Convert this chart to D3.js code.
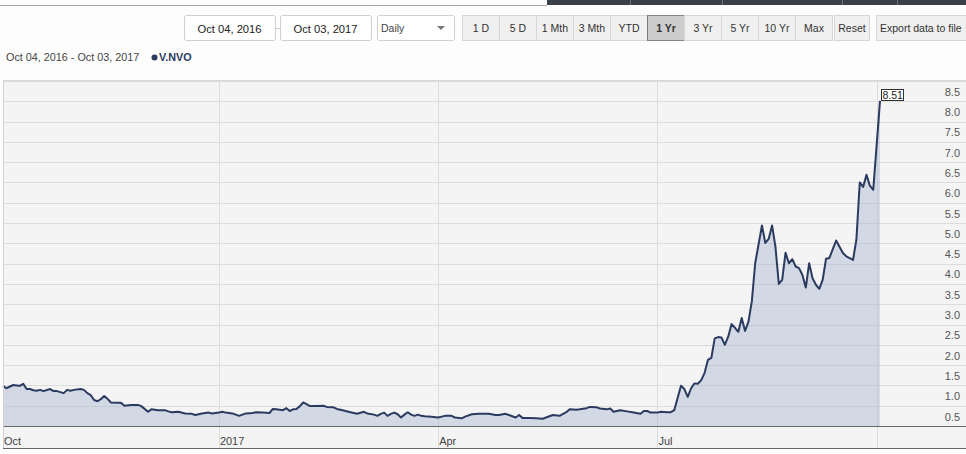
<!DOCTYPE html>
<html><head><meta charset="utf-8">
<script src="https://cdn.jsdelivr.net/npm/d3@7"></script>
<style>
body{margin:0;background:#fdfdfd;font-family:Arial,"Liberation Sans",sans-serif;}
svg{display:block}
</style></head><body>
<svg id="c" width="966" height="454"></svg>
<script>
// ---- data ----
const dates = [
"2016-10-04","2016-10-05","2016-10-07","2016-10-10","2016-10-11","2016-10-12","2016-10-13","2016-10-14","2016-10-17","2016-10-18",
"2016-10-19","2016-10-20","2016-10-24","2016-10-25","2016-10-26","2016-10-28","2016-10-31","2016-11-01","2016-11-02","2016-11-04",
"2016-11-07","2016-11-08","2016-11-09","2016-11-10","2016-11-11","2016-11-14","2016-11-15","2016-11-16","2016-11-17","2016-11-21",
"2016-11-22","2016-11-23","2016-11-25","2016-11-29","2016-11-30","2016-12-02","2016-12-05","2016-12-07","2016-12-09","2016-12-12",
"2016-12-13","2016-12-15","2016-12-19","2016-12-21","2016-12-22","2016-12-26","2016-12-28","2016-12-29","2017-01-02","2017-01-03",
"2017-01-04","2017-01-06","2017-01-10","2017-01-12","2017-01-16","2017-01-17","2017-01-19","2017-01-23","2017-01-24","2017-01-25",
"2017-01-27","2017-01-30","2017-01-31","2017-02-01","2017-02-02","2017-02-03","2017-02-06","2017-02-07","2017-02-08","2017-02-10",
"2017-02-14","2017-02-15","2017-02-17","2017-02-20","2017-02-22","2017-02-24","2017-02-28","2017-03-02","2017-03-03","2017-03-07",
"2017-03-08","2017-03-09","2017-03-10","2017-03-13","2017-03-14","2017-03-15","2017-03-16","2017-03-17","2017-03-20","2017-03-21",
"2017-03-22","2017-03-23","2017-03-24","2017-03-27","2017-03-28","2017-03-30","2017-04-03","2017-04-05","2017-04-07","2017-04-10",
"2017-04-12","2017-04-13","2017-04-17","2017-04-19","2017-04-24","2017-04-26","2017-04-27","2017-05-01","2017-05-02","2017-05-04",
"2017-05-05","2017-05-08","2017-05-10","2017-05-12","2017-05-16","2017-05-17","2017-05-19","2017-05-23","2017-05-25","2017-05-26",
"2017-05-30","2017-05-31","2017-06-02","2017-06-05","2017-06-07","2017-06-08","2017-06-12","2017-06-13","2017-06-14","2017-06-16",
"2017-06-20","2017-06-22","2017-06-26","2017-06-27","2017-06-28","2017-06-29","2017-07-03","2017-07-04","2017-07-06","2017-07-07",
"2017-07-10","2017-07-11","2017-07-12","2017-07-13","2017-07-14","2017-07-17","2017-07-18","2017-07-19","2017-07-20","2017-07-21",
"2017-07-24","2017-07-25","2017-07-26","2017-07-27","2017-07-28","2017-07-31","2017-08-01","2017-08-02","2017-08-03","2017-08-04",
"2017-08-07","2017-08-08","2017-08-09","2017-08-10","2017-08-11","2017-08-15","2017-08-16","2017-08-17","2017-08-18","2017-08-21",
"2017-08-22","2017-08-23","2017-08-24","2017-08-25","2017-08-28","2017-08-29","2017-08-30","2017-08-31","2017-09-01","2017-09-04",
"2017-09-05","2017-09-06","2017-09-07","2017-09-08","2017-09-11","2017-09-12","2017-09-13","2017-09-14","2017-09-18","2017-09-19",
"2017-09-21","2017-09-22","2017-09-25","2017-09-26","2017-09-27","2017-09-28","2017-09-29","2017-10-03"];
const values = [
1.49,1.43,1.51,1.50,1.49,1.54,1.41,1.41,1.38,1.37,
1.39,1.36,1.41,1.36,1.36,1.31,1.39,1.37,1.39,1.41,
1.39,1.31,1.26,1.14,1.11,1.16,1.24,1.17,1.08,1.07,
1.07,1.00,1.02,1.02,0.99,0.85,0.91,0.89,0.89,0.86,
0.84,0.85,0.81,0.80,0.77,0.81,0.83,0.81,0.83,0.85,
0.83,0.81,0.75,0.81,0.82,0.84,0.83,0.82,0.92,0.91,
0.89,0.94,0.87,0.91,0.92,0.99,1.08,1.04,0.99,0.99,
1.00,0.97,0.96,0.92,0.88,0.84,0.80,0.85,0.81,0.78,
0.75,0.80,0.83,0.75,0.80,0.83,0.79,0.71,0.78,0.84,
0.78,0.75,0.78,0.75,0.74,0.73,0.71,0.75,0.75,0.71,
0.69,0.73,0.79,0.80,0.80,0.77,0.77,0.80,0.77,0.71,
0.77,0.70,0.70,0.69,0.68,0.71,0.77,0.75,0.84,0.91,
0.90,0.91,0.94,0.97,0.96,0.93,0.91,0.93,0.85,0.89,
0.86,0.83,0.80,0.87,0.87,0.83,0.83,0.85,0.84,0.84,
0.89,1.19,1.49,1.41,1.22,1.43,1.55,1.54,1.63,1.81,
2.13,2.18,2.66,2.69,2.68,2.50,2.70,3.01,2.92,2.82,
3.16,2.84,3.07,3.57,4.51,5.44,5.01,5.11,5.44,4.92,
4.00,4.10,4.77,4.51,4.61,4.43,4.39,4.22,3.91,4.51,
4.14,3.98,3.88,4.10,4.62,4.64,4.86,5.07,4.76,4.68,
4.59,5.09,6.50,6.39,6.69,6.42,6.32,8.51];
const yTicks = [0.5,1.0,1.5,2.0,2.5,3.0,3.5,4.0,4.5,5.0,5.5,6.0,6.5,7.0,7.5,8.0,8.5];
const yMax = 9.0;
const xTickDates = ["2016-10-04","2017-01-02","2017-04-03","2017-07-03","2017-10-02"];
const xTickLabels = ["Oct","2017","Apr","Jul",""];
const rangeButtons = ["1 D","5 D","1 Mth","3 Mth","YTD","1 Yr","3 Yr","5 Yr","10 Yr","Max"];
const selectedRange = "1 Yr";
const fromDate = "Oct 04, 2016", toDate = "Oct 03, 2017", period = "Daily";
const seriesName = "V.NVO";

// ---- layout ----
const svg = d3.select("#c");
const W = 966;
const plot = {left:3, right:W, top:81, bottom:426, axisBottom:448, dataRight:880};
const navy = "#2b3b60";

// top bar
svg.append("line").attr("x1",0).attr("x2",547).attr("y1",5.5).attr("y2",5.5).attr("stroke","#a9a9a9");
svg.append("rect").attr("x",547).attr("y",0).attr("width",W-547).attr("height",5).attr("fill","#3a4049");
[630,722,842,897].forEach(x=>svg.append("line").attr("x1",x+0.5).attr("x2",x+0.5).attr("y1",0).attr("y2",5).attr("stroke","#6b7079"));

// date inputs
function box(x,w,label,opts={}){
  svg.append("rect").attr("x",x+0.5).attr("y",15.5).attr("width",w).attr("height",25).attr("rx",2)
    .attr("fill","#fff").attr("stroke","#cfcfcf");
  svg.append("text").attr("x",opts.left? x+4 : x+w/2).attr("y",opts.left?32:32.5)
    .attr("text-anchor",opts.left?"start":"middle").attr("font-size",opts.fs||11.2).attr("fill",opts.color||"#222").text(label);
}
box(184,91,fromDate);
svg.append("line").attr("x1",275).attr("x2",280).attr("y1",28.5).attr("y2",28.5).attr("stroke","#cfcfcf");
box(280,91,toDate);
box(377,77,period,{left:true,fs:10.5,color:"#444"});
svg.append("path").attr("d","M437,26 L445,26 L441,30 Z").attr("fill","#777");

// range buttons
const bw = 37, bx0 = 462;
rangeButtons.forEach((b,i)=>{
  const x = bx0 + i*bw, sel = b===selectedRange;
  svg.append("rect").attr("x",x+0.5).attr("y",15.5).attr("width",bw).attr("height",25)
    .attr("fill",sel?"#cdcdcd":"#f0f0f0").attr("stroke",sel?"#222":"#d6d6d6")
    .attr("stroke-dasharray",sel?"1,1":null);
  svg.append("text").attr("x",x+bw/2+0.5).attr("y",32).attr("text-anchor","middle")
    .attr("font-size",10.5).attr("font-weight",sel?"bold":"normal").attr("fill","#333").text(b);
});
[["Reset",834,35],["Export data to file",876,96]].forEach(([t,x,w])=>{
  svg.append("rect").attr("x",x+0.5).attr("y",15.5).attr("width",w).attr("height",25)
    .attr("fill","#f0f0f0").attr("stroke","#d6d6d6");
  svg.append("text").attr("x",t==="Reset"?x+w/2+0.5:x+4).attr("y",32).attr("text-anchor",t==="Reset"?"middle":"start")
    .attr("font-size",10.5).attr("fill","#333").text(t);
});

// legend
svg.append("text").attr("x",6).attr("y",61).attr("font-size",10.8).attr("fill","#444").text(fromDate+" - "+toDate);
svg.append("circle").attr("cx",154.5).attr("cy",57.5).attr("r",3).attr("fill",navy);
svg.append("text").attr("x",159).attr("y",61).attr("font-size",10.8).attr("font-weight","bold").attr("fill",navy).text(seriesName);

// scales
const parse = d3.utcParse("%Y-%m-%d");
const pts = dates.map((d,i)=>({date:parse(d), v:values[i]}));
const start = pts[0].date;
const isWeekday = d => d.getUTCDay()%6 !== 0;
const tIndex = d => d3.utcDay.range(start,d).filter(isWeekday).length;
const x = d3.scaleLinear().domain([0,tIndex(pts[pts.length-1].date)]).range([plot.left,plot.dataRight]);
const y = d3.scaleLinear().domain([yTicks[0],yMax]).range([plot.bottom,plot.top]);

// plot background
svg.append("rect").attr("x",plot.left).attr("y",plot.top).attr("width",W-plot.left).attr("height",plot.axisBottom-plot.top)
  .attr("fill","#f4f4f4");

// horizontal grid
svg.append("g").selectAll("line").data(yTicks.slice(1).concat([yMax])).join("line")
  .attr("x1",plot.left).attr("x2",W).attr("y1",d=>Math.round(y(d))+0.5).attr("y2",d=>Math.round(y(d))+0.5)
  .attr("stroke","#dcdcdc");
// vertical grid
svg.append("g").selectAll("line").data(xTickDates.slice(1)).join("line")
  .attr("x1",d=>Math.round(x(tIndex(parse(d))))+0.5).attr("x2",d=>Math.round(x(tIndex(parse(d))))+0.5)
  .attr("y1",plot.top).attr("y2",plot.axisBottom).attr("stroke","#dcdcdc");

// area + line
const area = d3.area().x(d=>x(tIndex(d.date))).y0(y(yTicks[0])).y1(d=>y(d.v));
const line = d3.line().x(d=>x(tIndex(d.date))).y(d=>y(d.v));
svg.append("path").datum(pts).attr("d",area).attr("fill","#9fb1cf").attr("fill-opacity",0.4);
svg.append("path").datum(pts).attr("d",line).attr("fill","none").attr("stroke",navy).attr("stroke-width",2).attr("stroke-linejoin","round");

// axis lines
svg.append("line").attr("x1",plot.left).attr("x2",W).attr("y1",Math.round(y(yTicks[0]))+0.5).attr("y2",Math.round(y(yTicks[0]))+0.5).attr("stroke","#666");
svg.append("line").attr("x1",plot.left).attr("x2",W).attr("y1",plot.axisBottom+0.5).attr("y2",plot.axisBottom+0.5).attr("stroke","#666");
svg.append("line").attr("x1",plot.left+0.5).attr("x2",plot.left+0.5).attr("y1",plot.top).attr("y2",plot.axisBottom).attr("stroke","#d0d0d0");
svg.append("line").attr("x1",plot.left).attr("x2",W).attr("y1",plot.top-0.5).attr("y2",plot.top-0.5).attr("stroke","#d8d8d8");

// y labels
svg.append("g").selectAll("text").data(yTicks).join("text")
  .attr("x",960).attr("y",d=>y(d)-5.5).attr("text-anchor","end").attr("font-size",11).attr("fill","#555")
  .text(d=>d3.format(".1f")(d));
// x labels
svg.append("g").selectAll("text").data(xTickDates).join("text")
  .attr("x",(d,i)=>x(tIndex(parse(d)))+1).attr("y",444.5).attr("font-size",11).attr("fill","#444")
  .text((d,i)=>xTickLabels[i]);

// last value label
const last = pts[pts.length-1];
const lx = x(tIndex(last.date)), ly = y(last.v);
svg.append("rect").attr("x",Math.round(lx)+1.5).attr("y",Math.round(ly)-11.5).attr("width",22).attr("height",11)
  .attr("fill","#fff").attr("stroke","#333");
svg.append("text").attr("x",Math.round(lx)+2.5).attr("y",Math.round(ly)-2).attr("font-size",10.5).attr("fill","#222")
  .text(d3.format(".2f")(last.v));
</script>
</body></html>
